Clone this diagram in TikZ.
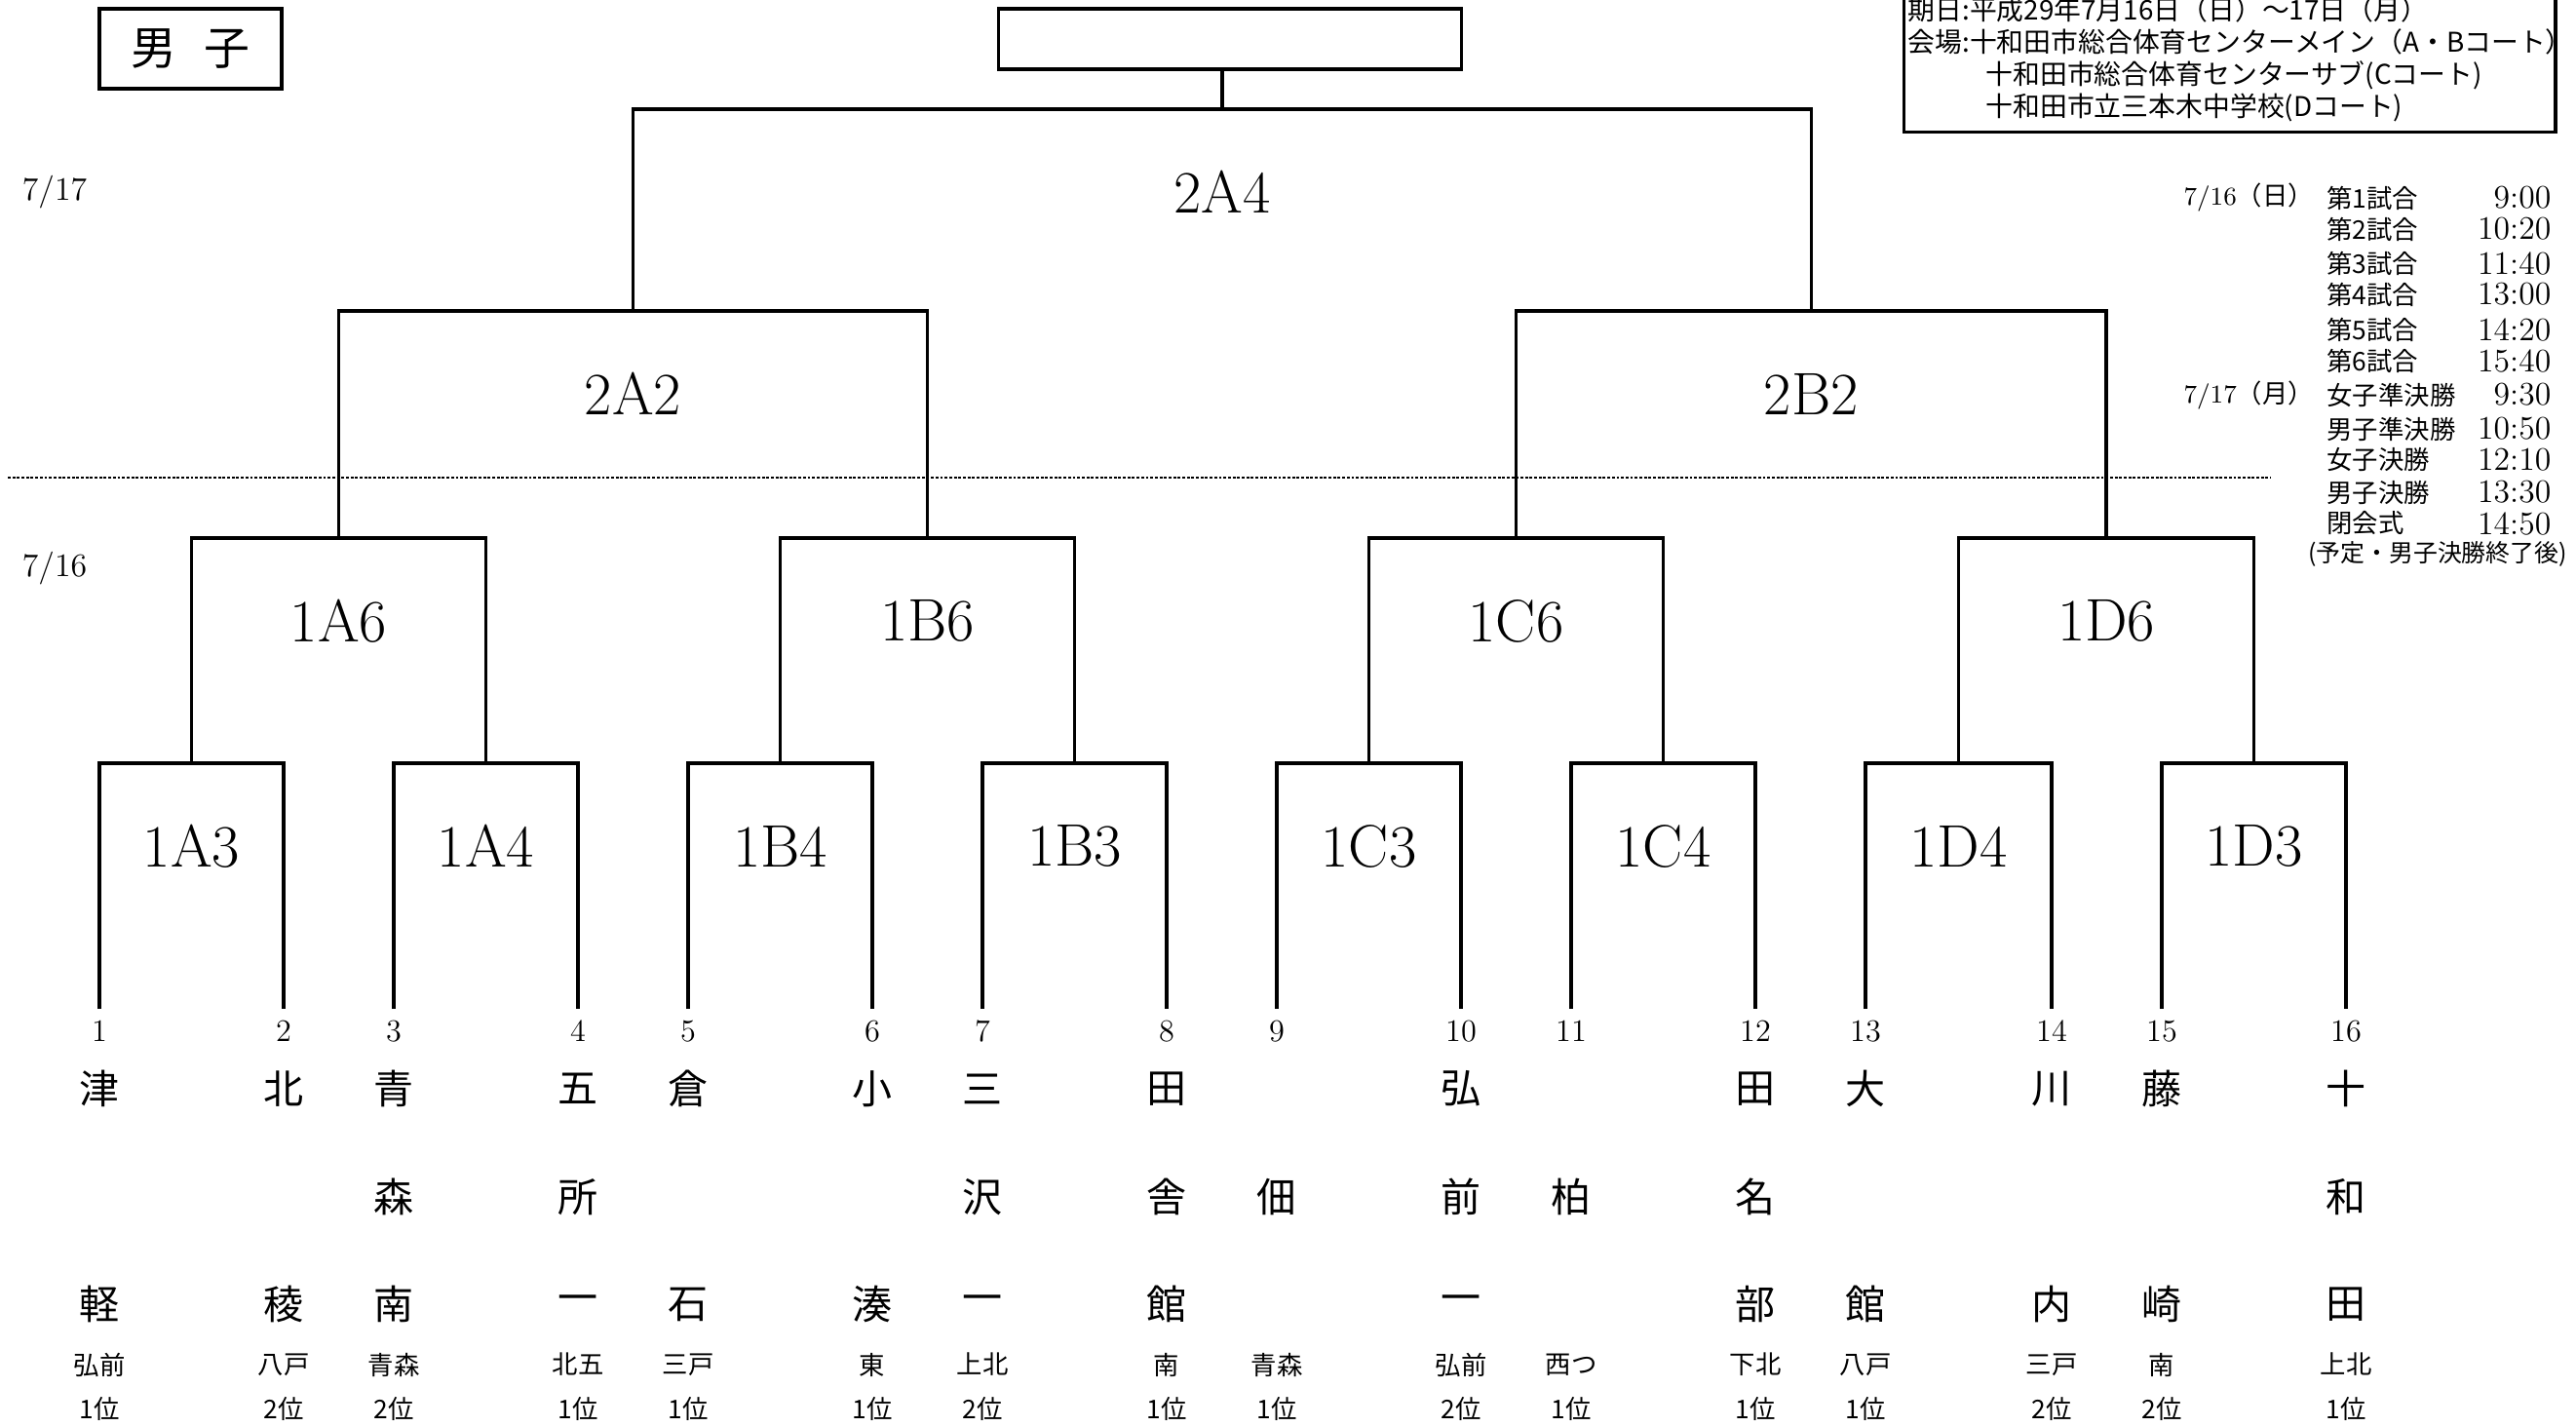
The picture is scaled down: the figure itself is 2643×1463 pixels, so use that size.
\documentclass[tikz,border=0pt]{standalone}
\usepackage{fontspec}
\newfontfamily\jp{Noto Sans CJK JP}
\tikzset{
    bracket/.style={line width=1.1pt},
    game/.style={font=\fontsize{21}{25}\selectfont},
    daylbl/.style={font=\fontsize{11.5}{14}\selectfont},
    seed/.style={font=\fontsize{11}{13}\selectfont},
    school/.style={font=\jp\fontsize{14}{16}\selectfont},
    small/.style={font=\jp\fontsize{9}{11}\selectfont},
    info/.style={font=\jp\fontsize{9.5}{11}\selectfont,anchor=west,inner sep=0pt},
    clock/.style={font=\fontsize{11.5}{13}\selectfont,anchor=east,inner sep=0pt}
}
\newcommand\dayone{7/16{\jp （日）}}
\newcommand\daytwo{7/17{\jp （月）}}

\begin{document}
\begin{tikzpicture}[x=0.012cm,y=-0.012cm]
    \useasboundingbox (0,0) rectangle (2643,1463);
    % title boxes
    \node[draw,bracket,minimum width=2.244cm,minimum height=0.984cm,
          font=\jp\fontsize{16}{18}\selectfont] (sex) at (195.5,50) {男\hspace{0.6em}子};
    \node[draw,bracket,minimum width=5.7cm,minimum height=0.744cm] (champ) at (1262,40) {};
    % dates at the left
    \node[daylbl] (day2) at (56,197) {7/17};
    \node[daylbl] (day1) at (56,583) {7/16};
    \draw[line width=1pt,dash pattern=on 1pt off 0.6pt] (8,490) -- (2330,490);
    % teams
    \foreach \i/\x/\a/\b/\c/\reg/\rk in {
        1/102/津//軽/弘前/1, 2/291/北//稜/八戸/2, 3/404/青/森/南/青森/2, 4/593/五/所/一/北五/1,
        5/706/倉//石/三戸/1, 6/895/小//湊/東/1, 7/1008/三/沢/一/上北/2, 8/1197/田/舎/館/南/1,
        9/1310//佃//青森/1, 10/1499/弘/前/一/弘前/2, 11/1612//柏//西つ/1, 12/1801/田/名/部/下北/1,
        13/1914/大//館/八戸/1, 14/2105/川//内/三戸/2, 15/2218/藤//崎/南/2, 16/2407/十/和/田/上北/1}
    {
        \coordinate (p\i) at (\x,1035);
        \node[seed] (n\i) at (\x,1058) {\i};
        \node[school] (ta\i) at (\x,1117) {\a};
        \node[school] (tb\i) at (\x,1228) {\b};
        \node[school] (tc\i) at (\x,1338) {\c};
        \node[small] (r\i) at (\x,1400) {\reg};
        \node[small] (k\i) at (\x,1445) {\rk 位};
    }
    % games
    \foreach \g/\x/\y in {1A3/196.5/783, 1A4/498.5/783, 1B4/800.5/783, 1B3/1102.5/783,
        1C3/1404.5/783, 1C4/1706.5/783, 1D4/2009.5/783, 1D3/2312.5/783,
        1A6/347.5/552, 1B6/951.5/552, 1C6/1555.5/552, 1D6/2161/552,
        2A2/649.5/319, 2B2/1858.25/319, 2A4/1253.9/112}
    {
        \coordinate (m\g) at (\x,\y);
        \node[game] (g\g) at (\x,\y+85) {\g};
    }
    \foreach \l/\m/\r in {p1/m1A3/p2, p3/m1A4/p4, p5/m1B4/p6, p7/m1B3/p8,
        p9/m1C3/p10, p11/m1C4/p12, p13/m1D4/p14, p15/m1D3/p16,
        m1A3/m1A6/m1A4, m1B4/m1B6/m1B3, m1C3/m1C6/m1C4, m1D4/m1D6/m1D3,
        m1A6/m2A2/m1B6, m1C6/m2B2/m1D6, m2A2/m2A4/m2B2}
        \draw[bracket] (\l) |- (\m) -| (\r);
    \draw[bracket] (champ.south -| m2A4) -- (m2A4);
    % venue
    \node[draw,bracket,minimum width=8.016cm,minimum height=1.86cm,anchor=south west] (venue) at (1952,137) {};
    \node[info] (v1) at (1957,10) {期日:平成29年7月16日（日）～17日（月）};
    \node[info] (v2) at (1957,43) {会場:十和田市総合体育センターメイン（A・Bコート）};
    \node[info] (v3) at (2037,77) {十和田市総合体育センターサブ(Cコート)};
    \node[info] (v4) at (2037,110) {十和田市立三本木中学校(Dコート)};
    % time table
    \foreach \rowy/\rowdate/\rowgame/\rowtime in {203/\dayone/第1試合/9:00, 235//第2試合/10:20,
        270//第3試合/11:40, 302//第4試合/13:00, 338//第5試合/14:20, 370//第6試合/15:40,
        405/\daytwo/女子準決勝/9:30, 440//男子準決勝/10:50, 472//女子決勝/12:10,
        505//男子決勝/13:30, 537//閉会式/14:50}
    {
        \node[font=\fontsize{9}{11}\selectfont,anchor=west,inner sep=0pt] (d\rowy) at (2240,\rowy) {\rowdate};
        \node[info,font=\jp\fontsize{9}{11}\selectfont] (s\rowy) at (2387,\rowy) {\rowgame};
        \node[clock] (c\rowy) at (2618,\rowy) {\rowtime};
    }
    \node[font=\jp\fontsize{8.5}{10}\selectfont] (note) at (2501,568) {(予定・男子決勝終了後)};
\end{tikzpicture}
\end{document}
